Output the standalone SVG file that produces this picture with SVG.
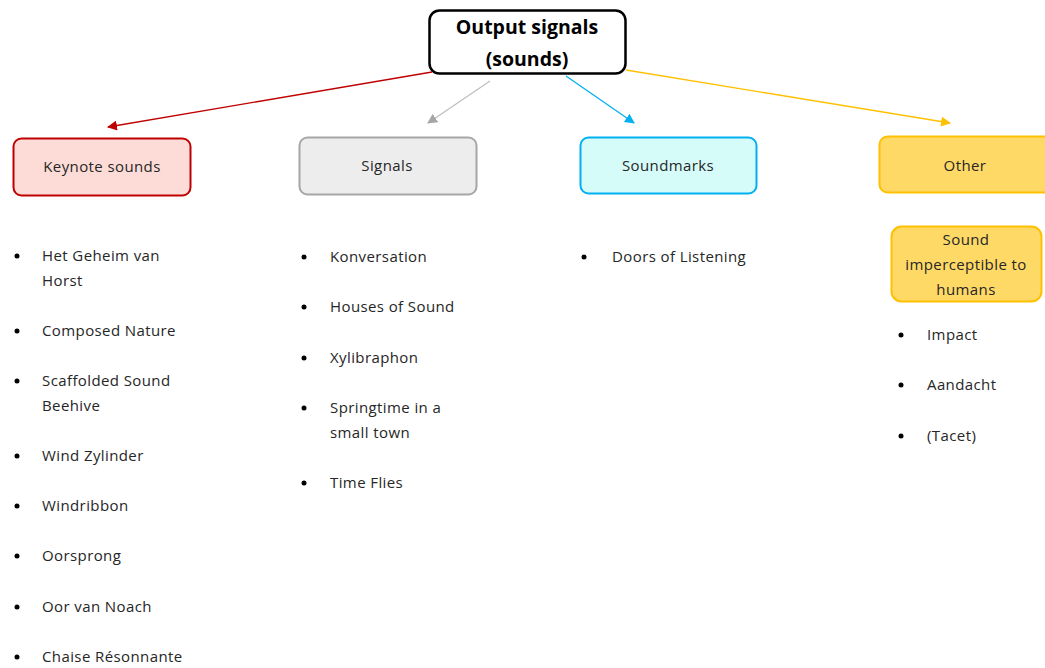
<svg xmlns="http://www.w3.org/2000/svg" width="1045" height="668" viewBox="0 0 1045 668">
<style>
text{font-family:"Open Sans","Noto Sans",sans-serif;font-size:15px;letter-spacing:0.4px;fill:#262626}
.c{text-anchor:middle}
.t{font-size:19.5px;font-weight:bold;fill:#000;letter-spacing:0}
.b{fill:#000}
</style>
<defs>
<marker id="ar" viewBox="0 0 10 10" refX="9" refY="5" markerWidth="10" markerHeight="10" markerUnits="userSpaceOnUse" orient="auto"><path d="M0,0L10,5L0,10z" fill="#c00000"/></marker>
<marker id="ag" viewBox="0 0 10 10" refX="9" refY="5" markerWidth="10" markerHeight="10" markerUnits="userSpaceOnUse" orient="auto"><path d="M0,0L10,5L0,10z" fill="#a6a6a6"/></marker>
<marker id="ab" viewBox="0 0 10 10" refX="9" refY="5" markerWidth="10" markerHeight="10" markerUnits="userSpaceOnUse" orient="auto"><path d="M0,0L10,5L0,10z" fill="#00b0f0"/></marker>
<marker id="ay" viewBox="0 0 10 10" refX="9" refY="5" markerWidth="10" markerHeight="10" markerUnits="userSpaceOnUse" orient="auto"><path d="M0,0L10,5L0,10z" fill="#ffc000"/></marker>
</defs>
<rect width="1045" height="668" fill="#fff"/>
<g id="connectors" fill="none" stroke-width="1.3">
<line x1="432" y1="72" x2="108" y2="127" stroke="#c00000" marker-end="url(#ar)"/>
<line x1="490" y1="81" x2="428" y2="123" stroke="#bfbfbf" marker-end="url(#ag)"/>
<line x1="566" y1="76" x2="634" y2="123" stroke="#00b0f0" marker-end="url(#ab)"/>
<line x1="626" y1="70" x2="950" y2="123" stroke="#ffc000" marker-end="url(#ay)"/>
</g>
<g id="root">
<rect x="429.5" y="10.5" width="196" height="63" rx="10" fill="#fff" stroke="#000" stroke-width="2.5"/>
<text class="c t" x="527" y="34">Output signals</text>
<text class="c t" x="527" y="66">(sounds)</text>
</g>
<g id="keynote">
<rect x="13.5" y="138.5" width="177" height="57" rx="8" fill="#fddcd7" stroke="#c00000" stroke-width="2"/>
<text class="c" x="102" y="172">Keynote sounds</text>
</g>
<g id="signals">
<rect x="299.5" y="137.5" width="177" height="57" rx="8" fill="#ededed" stroke="#a6a6a6" stroke-width="2"/>
<text class="c" x="387" y="171">Signals</text>
</g>
<g id="soundmarks">
<rect x="580.5" y="137.5" width="176" height="56" rx="8" fill="#d6fcfa" stroke="#00b0f0" stroke-width="2"/>
<text class="c" x="668" y="171">Soundmarks</text>
</g>
<g id="other">
<rect x="879.5" y="136.5" width="180" height="56" rx="8" fill="#ffd966" stroke="#ffc000" stroke-width="2"/>
<text class="c" x="965" y="171">Other</text>
</g>
<g id="imperceptible">
<rect x="891.5" y="226.5" width="150" height="75" rx="10" fill="#ffd966" stroke="#ffc000" stroke-width="2"/>
<text class="c" x="966" y="245">Sound</text>
<text class="c" x="966" y="270">imperceptible to</text>
<text class="c" x="966" y="295">humans</text>
</g>
<g id="keynote-list">
<circle class="b" cx="17" cy="256" r="2.5"/><text x="42" y="261">Het Geheim van</text><text x="42" y="286">Horst</text>
<circle class="b" cx="17" cy="331" r="2.5"/><text x="42" y="336">Composed Nature</text>
<circle class="b" cx="17" cy="381" r="2.5"/><text x="42" y="386">Scaffolded Sound</text><text x="42" y="411">Beehive</text>
<circle class="b" cx="17" cy="456" r="2.5"/><text x="42" y="461">Wind Zylinder</text>
<circle class="b" cx="17" cy="506" r="2.5"/><text x="42" y="511">Windribbon</text>
<circle class="b" cx="17" cy="556" r="2.5"/><text x="42" y="561">Oorsprong</text>
<circle class="b" cx="17" cy="607" r="2.5"/><text x="42" y="612">Oor van Noach</text>
<circle class="b" cx="17" cy="657" r="2.5"/><text x="42" y="662">Chaise Résonnante</text>
</g>
<g id="signals-list">
<circle class="b" cx="304" cy="257" r="2.5"/><text x="330" y="262">Konversation</text>
<circle class="b" cx="304" cy="307" r="2.5"/><text x="330" y="312">Houses of Sound</text>
<circle class="b" cx="304" cy="358" r="2.5"/><text x="330" y="363">Xylibraphon</text>
<circle class="b" cx="304" cy="408" r="2.5"/><text x="330" y="413">Springtime in a</text><text x="330" y="438">small town</text>
<circle class="b" cx="304" cy="483" r="2.5"/><text x="330" y="488">Time Flies</text>
</g>
<g id="soundmarks-list">
<circle class="b" cx="584" cy="257" r="2.5"/><text x="612" y="262">Doors of Listening</text>
</g>
<g id="other-list">
<circle class="b" cx="901" cy="335" r="2.5"/><text x="927" y="340">Impact</text>
<circle class="b" cx="901" cy="385" r="2.5"/><text x="927" y="390">Aandacht</text>
<circle class="b" cx="901" cy="436" r="2.5"/><text x="927" y="441">(Tacet)</text>
</g>
</svg>
